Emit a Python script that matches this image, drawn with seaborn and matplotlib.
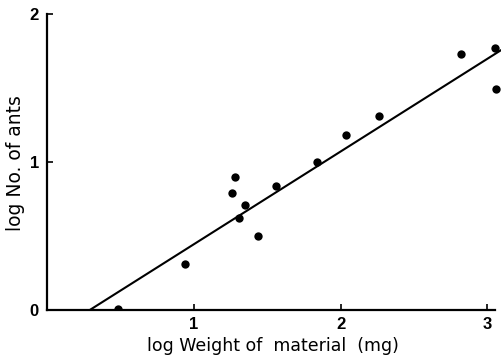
import matplotlib
matplotlib.use("Agg")
import matplotlib.pyplot as plt
import seaborn as sns
import pandas as pd

# data
log_weight = [0.48, 0.94, 1.26, 1.28, 1.31, 1.35, 1.44, 1.56, 1.84, 2.04, 2.26, 2.82, 3.05, 3.06]
log_ants = [0.01, 0.31, 0.79, 0.90, 0.62, 0.71, 0.50, 0.84, 1.00, 1.18, 1.31, 1.73, 1.77, 1.49]
line_x = [0.29, 3.12]
line_y = [0.0, 1.77]
x_ticks = [1, 2, 3]
y_ticks = [0, 1, 2]

sns.set_style("ticks")
plt.rcParams['font.family'] = ['DejaVu Sans']
plt.rcParams['text.color'] = 'black'
plt.rcParams['axes.labelcolor'] = 'black'

df = pd.DataFrame({"x": log_weight, "y": log_ants})
line_df = pd.DataFrame({"x": line_x, "y": line_y})

fig = plt.figure(figsize=(5.02, 3.58), dpi=100)
ax = fig.add_axes([0.094, 0.134, 0.906, 0.828])

sns.lineplot(data=line_df, x="x", y="y", ax=ax, color="black", linewidth=1.5)
sns.scatterplot(data=df, x="x", y="y", ax=ax, color="black", s=36, edgecolor="black", linewidth=0, zorder=3)

ax.set_xlim(0, 3.1)
ax.set_ylim(0, 2.0)
ax.set_xticks(x_ticks)
ax.set_yticks(y_ticks)
ax.set_xticklabels([str(t) for t in x_ticks], fontweight="bold", fontsize=12,
                   family="Liberation Sans")
ax.set_yticklabels([str(t) for t in y_ticks], fontweight="bold", fontsize=12,
                   family="Liberation Sans")
ax.tick_params(direction="in", length=4, width=1.2, pad=5, colors="black",
               labelcolor="black")
ax.tick_params(axis="y", pad=6)

for s in ["top", "right"]:
    ax.spines[s].set_visible(False)
for s in ["left", "bottom"]:
    ax.spines[s].set_linewidth(1.6)
    ax.spines[s].set_color("black")
ax.spines["bottom"].set_bounds(0, 3.05)

ax.set_xlabel("log Weight of  material  (mg)", fontsize=12.5, color="black")
ax.set_ylabel("log No. of ants", fontsize=13.5, color="black")
ax.xaxis.set_label_coords(0.497, -0.09)
ax.yaxis.set_label_coords(-0.048, 0.497)

fig.savefig("out.png", dpi=100)
